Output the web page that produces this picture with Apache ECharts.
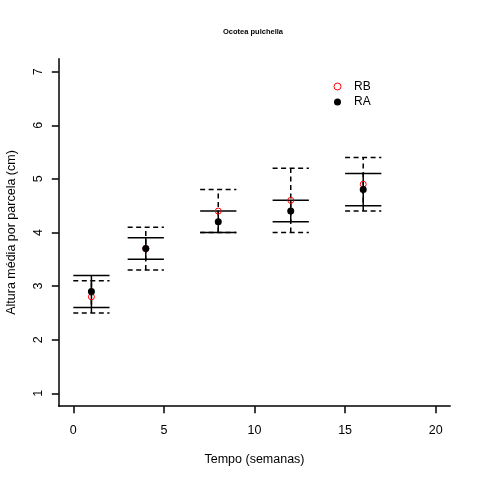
<!DOCTYPE html>
<html lang="pt">
<head>
    <meta charset="UTF-8">
    <title>Ocotea pulchella</title>
    <script src="https://cdn.jsdelivr.net/npm/echarts@6/dist/echarts.min.js"></script>
    <style>
        html, body { margin: 0; padding: 0; background: #fff; }
        #chart { width: 480px; height: 480px; }
    </style>
</head>
<body>
    <div id="chart"></div>
<script>
    // semanas de medição
    var weeks = [1, 4, 8, 12, 16];
    // RB: media e intervalo
    var rbMean = [2.8, 3.7, 4.4, 4.6, 4.9];
    var rbLow  = [2.5, 3.3, 4.0, 4.0, 4.4];
    var rbHigh = [3.1, 4.1, 4.8, 5.2, 5.4];
    // RA: media e intervalo
    var raMean = [2.9, 3.7, 4.2, 4.4, 4.8];
    var raLow  = [2.6, 3.5, 4.0, 4.2, 4.5];
    var raHigh = [3.2, 3.9, 4.4, 4.6, 5.1];
    // marcas dos eixos
    var xTicks = [0, 5, 10, 15, 20];
    var yTicks = [1, 2, 3, 4, 5, 6, 7];

    var font = 'Liberation Sans, Arial, sans-serif';

    function pairs(xs, ys) {
        return xs.map(function (x, i) { return [x, ys[i]]; });
    }
    function bars(xs, lo, hi) {
        return xs.map(function (x, i) { return [x, lo[i], hi[i]]; });
    }

    // barra de erro com "chapeus" de +-1 semana
    function errorBar(dashed) {
        return function (params, api) {
            var x = api.value(0), lo = api.value(1), hi = api.value(2);
            var a = api.coord([x, lo]), b = api.coord([x, hi]);
            var l1 = api.coord([x - 1, lo]), r1 = api.coord([x + 1, lo]);
            var l2 = api.coord([x - 1, hi]), r2 = api.coord([x + 1, hi]);
            var st = { stroke: '#000', lineWidth: 1.5, lineDash: dashed ? [5, 3.5] : null };
            return {
                type: 'group',
                children: [
                    { type: 'line', shape: { x1: a[0], y1: a[1], x2: b[0], y2: b[1] }, style: st },
                    { type: 'line', shape: { x1: l1[0], y1: l1[1], x2: r1[0], y2: r1[1] }, style: st },
                    { type: 'line', shape: { x1: l2[0], y1: l2[1], x2: r2[0], y2: r2[1] }, style: st }
                ]
            };
        };
    }

    var chart = echarts.init(document.getElementById('chart'));
    var option = {
        animation: false,
        textStyle: { fontFamily: font },
        title: {
            text: 'Ocotea pulchella',
            left: 248,
            textAlign: 'center',
            top: 23,
            textStyle: { fontFamily: font, fontSize: 7.5, fontWeight: 'bold', color: '#000' }
        },
        grid: { left: 58.8, right: 29.8, top: 58.8, bottom: 73.8, containLabel: false, outerBoundsMode: 'none' },
        legend: {
            orient: 'vertical',
            left: 328.5,
            top: 74.5,
            itemWidth: 7,
            itemHeight: 7,
            itemGap: 1.4,
            textStyle: { fontFamily: font, fontSize: 12, color: '#000', lineHeight: 14, padding: [0, 0, 0, 8] },
            data: [
                { name: 'RB', icon: 'circle', itemStyle: { color: 'rgba(0,0,0,0)', borderColor: '#ff0000', borderWidth: 1 } },
                { name: 'RA', icon: 'circle', itemStyle: { color: '#000', borderWidth: 0 } }
            ]
        },
        xAxis: {
            type: 'value',
            min: -0.8,
            max: 20.8,
            name: 'Tempo (semanas)',
            nameLocation: 'middle',
            nameGap: 47,
            nameTextStyle: { fontFamily: font, fontSize: 12.5, color: '#000' },
            axisLine: { onZero: false, lineStyle: { color: '#000', width: 1.5 } },
            axisTick: { customValues: xTicks, length: 7, lineStyle: { color: '#000', width: 1.5 } },
            axisLabel: { customValues: xTicks, margin: 18, fontSize: 12.5, color: '#000', fontFamily: font },
            splitLine: { show: false }
        },
        yAxis: {
            type: 'value',
            min: 0.76,
            max: 7.24,
            name: 'Altura média por parcela (cm)',
            nameLocation: 'middle',
            nameGap: 41,
            nameTextStyle: { fontFamily: font, fontSize: 12.5, color: '#000' },
            axisLine: { show: true, onZero: false, lineStyle: { color: '#000', width: 1.5 } },
            axisTick: { show: true, customValues: yTicks, length: 7, lineStyle: { color: '#000', width: 1.5 } },
            axisLabel: { customValues: yTicks, rotate: 90, margin: 14, fontSize: 12.5, color: '#000', fontFamily: font },
            splitLine: { show: false }
        },
        series: [
            {
                name: 'RB barras',
                type: 'custom',
                renderItem: errorBar(true),
                encode: { x: 0, y: [1, 2] },
                data: bars(weeks, rbLow, rbHigh)
            },
            {
                name: 'RA barras',
                type: 'custom',
                renderItem: errorBar(false),
                encode: { x: 0, y: [1, 2] },
                data: bars(weeks, raLow, raHigh)
            },
            {
                name: 'RB',
                type: 'scatter',
                symbol: 'circle',
                symbolSize: 6,
                itemStyle: { color: 'rgba(0,0,0,0)', borderColor: '#ff0000', borderWidth: 1, opacity: 1 },
                data: pairs(weeks, rbMean)
            },
            {
                name: 'RA',
                type: 'scatter',
                symbol: 'circle',
                symbolSize: 7,
                itemStyle: { color: '#000', opacity: 1 },
                data: pairs(weeks, raMean)
            }
        ]
    };
    chart.setOption(option);
</script>
</body>
</html>
